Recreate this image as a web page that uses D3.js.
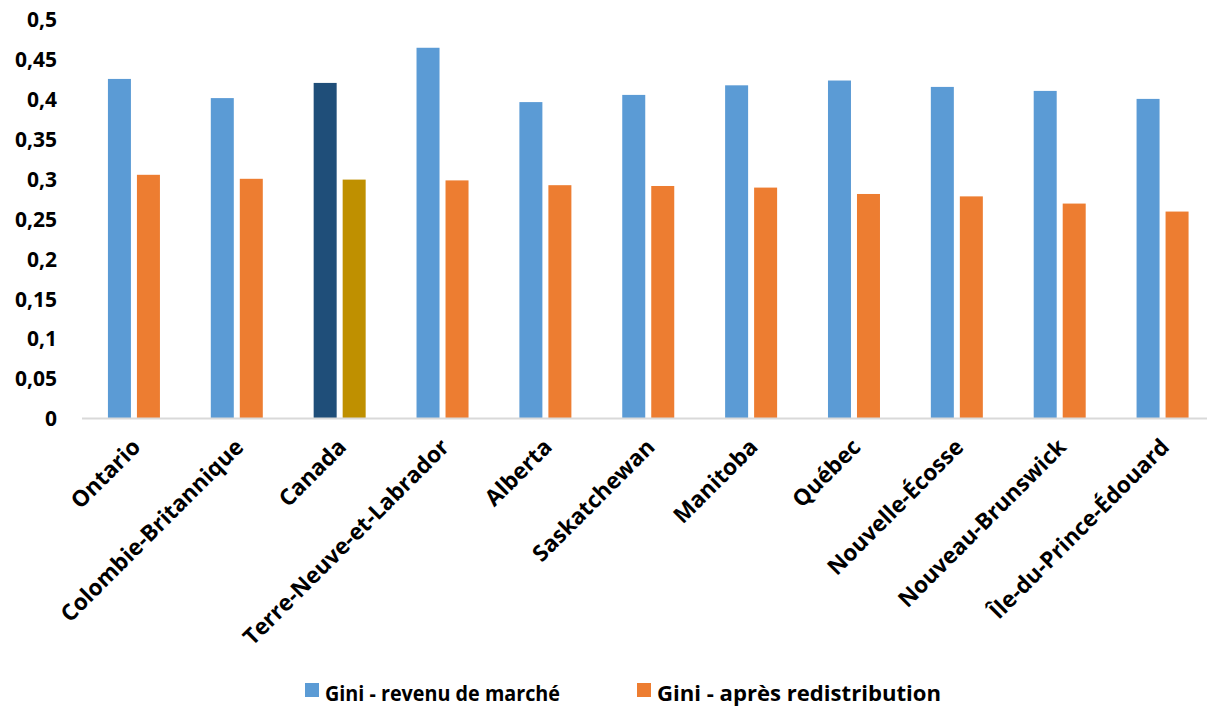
<!DOCTYPE html>
<html>
<head>
<meta charset="utf-8">
<script src="https://cdn.jsdelivr.net/npm/d3@7"></script>
<style>
  html, body { margin: 0; padding: 0; background: #fff; }
  svg { display: block; }
  text { font-family: "Open Sans", "Noto Sans", sans-serif; font-weight: 700; fill: #000; }
</style>
</head>
<body>
<svg id="chart" width="1207" height="708"></svg>
<script>
const categories = ["Ontario", "Colombie-Britannique", "Canada", "Terre-Neuve-et-Labrador", "Alberta", "Saskatchewan", "Manitoba", "Québec", "Nouvelle-Écosse", "Nouveau-Brunswick", "Île-du-Prince-Édouard"];
const marketGini = [0.425, 0.401, 0.420, 0.464, 0.396, 0.405, 0.417, 0.423, 0.415, 0.410, 0.400];
const afterGini = [0.305, 0.300, 0.299, 0.298, 0.292, 0.291, 0.289, 0.281, 0.278, 0.269, 0.259];
const seriesNames = ["Gini - revenu de marché", "Gini - après redistribution"];
const yTicks = [0, 0.05, 0.1, 0.15, 0.2, 0.25, 0.3, 0.35, 0.4, 0.45, 0.5];
const yTickLabels = ["0", "0,05", "0,1", "0,15", "0,2", "0,25", "0,3", "0,35", "0,4", "0,45", "0,5"];
const highlight = "Canada";

const colors = { market: "#5B9BD5", after: "#ED7D31", marketHi: "#1F4E79", afterHi: "#BF9000", axis: "#D9D9D9" };

const svg = d3.select("#chart");
const x0 = d3.scaleBand().domain(categories).range([82.5, 1214]).paddingInner(0).paddingOuter(0);
const y = d3.scaleLinear().domain([0, 0.5]).range([418.5, 19]);

const barW = 23, gap = 6;

// y axis labels
const yAxis = d3.axisLeft(y).tickValues(yTicks).tickFormat((d, i) => yTickLabels[i]).tickSize(0).tickPadding(0);
const gy = svg.append("g").attr("transform", "translate(57,0)").call(yAxis);
gy.select(".domain").remove();
gy.selectAll("text").style("font-size", "21px").style("font-family", "'Open Sans', sans-serif").style("font-weight", 700).attr("dy", "0.35em");

// bars
const groups = svg.append("g").selectAll("g").data(categories).join("g");
groups.append("rect")
  .attr("x", d => x0(d) + x0.bandwidth() / 2 - gap / 2 - barW)
  .attr("y", (d, i) => y(marketGini[i]))
  .attr("width", barW)
  .attr("height", (d, i) => y(0) - y(marketGini[i]))
  .attr("fill", d => d === highlight ? colors.marketHi : colors.market);
groups.append("rect")
  .attr("x", d => x0(d) + x0.bandwidth() / 2 + gap / 2)
  .attr("y", (d, i) => y(afterGini[i]))
  .attr("width", barW)
  .attr("height", (d, i) => y(0) - y(afterGini[i]))
  .attr("fill", d => d === highlight ? colors.afterHi : colors.after);

// x axis
const xAxis = d3.axisBottom(x0).tickSize(0).tickPadding(0);
const gx = svg.append("g").attr("transform", `translate(0,${y(0)})`).call(xAxis);
gx.select(".domain").attr("stroke", colors.axis).attr("stroke-width", 2).attr("d", `M82,0H1214`);
gx.selectAll(".tick text")
  .style("font-size", "22.5px").style("font-family", "'Open Sans', sans-serif").style("font-weight", 700)
  .attr("text-anchor", "end")
  .attr("dy", null).attr("y", null)
  .attr("transform", "translate(8,30) rotate(-45)");

// legend
const legend = svg.append("g");
const legItems = [
  { name: seriesNames[0], color: colors.market, x: 305 },
  { name: seriesNames[1], color: colors.after, x: 637 }
];
const li = legend.selectAll("g").data(legItems).join("g").attr("transform", d => `translate(${d.x},683)`);
li.append("rect").attr("width", 14).attr("height", 14).attr("fill", d => d.color);
li.append("text").attr("x", 20).attr("y", 18).style("font-size", "22px")
  .attr("textLength", (d, i) => i === 0 ? 235 : 284).attr("lengthAdjust", "spacingAndGlyphs")
  .text(d => d.name);
</script>
</body>
</html>
